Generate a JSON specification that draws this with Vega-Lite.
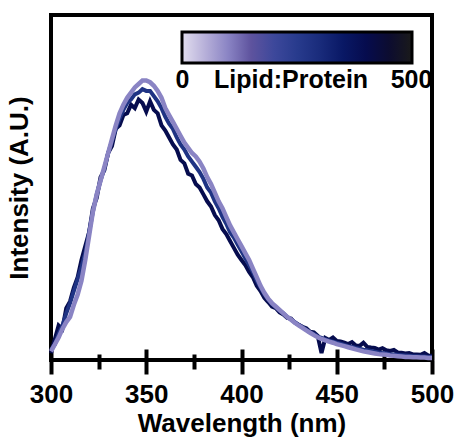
{
  "$schema": "https://vega.github.io/schema/vega-lite/v6.json",
  "width": 381,
  "height": 345,
  "autosize": {"type": "none"},
  "padding": {"left": 51, "top": 15, "right": 27, "bottom": 78},
  "background": "white",
  "config": {
    "view": {"stroke": "black", "strokeWidth": 4},
    "font": "Liberation Sans"
  },
  "datasets": {
    "D": [
      {"w":300,"r":400,"v":0.02},{"w":302,"r":400,"v":0.06},{"w":304,"r":400,"v":0.1},{"w":306,"r":400,"v":0.09},{"w":308,"r":400,"v":0.15},{"w":310,"r":400,"v":0.17},{"w":312,"r":400,"v":0.21},{"w":314,"r":400,"v":0.24},{"w":316,"r":400,"v":0.29},{"w":318,"r":400,"v":0.33},{"w":320,"r":400,"v":0.37},{"w":322,"r":400,"v":0.44},{"w":324,"r":400,"v":0.47},{"w":326,"r":400,"v":0.53},{"w":328,"r":400,"v":0.55},{"w":330,"r":400,"v":0.6},{"w":332,"r":400,"v":0.62},{"w":334,"r":400,"v":0.67},{"w":336,"r":400,"v":0.68},{"w":338,"r":400,"v":0.71},{"w":340,"r":400,"v":0.715},{"w":342,"r":400,"v":0.74},{"w":344,"r":400,"v":0.73},{"w":346,"r":400,"v":0.755},{"w":348,"r":400,"v":0.745},{"w":350,"r":400,"v":0.72},{"w":352,"r":400,"v":0.75},{"w":354,"r":400,"v":0.725},{"w":356,"r":400,"v":0.715},{"w":358,"r":400,"v":0.68},{"w":360,"r":400,"v":0.665},{"w":362,"r":400,"v":0.645},{"w":364,"r":400,"v":0.625},{"w":366,"r":400,"v":0.61},{"w":368,"r":400,"v":0.58},{"w":370,"r":400,"v":0.57},{"w":372,"r":400,"v":0.54},{"w":374,"r":400,"v":0.535},{"w":376,"r":400,"v":0.51},{"w":378,"r":400,"v":0.5},{"w":380,"r":400,"v":0.48},{"w":382,"r":400,"v":0.46},{"w":384,"r":400,"v":0.445},{"w":386,"r":400,"v":0.42},{"w":388,"r":400,"v":0.405},{"w":390,"r":400,"v":0.38},{"w":392,"r":400,"v":0.365},{"w":394,"r":400,"v":0.345},{"w":396,"r":400,"v":0.325},{"w":398,"r":400,"v":0.305},{"w":400,"r":400,"v":0.29},{"w":402,"r":400,"v":0.275},{"w":404,"r":400,"v":0.255},{"w":406,"r":400,"v":0.24},{"w":408,"r":400,"v":0.215},{"w":410,"r":400,"v":0.2},{"w":412,"r":400,"v":0.18},{"w":414,"r":400,"v":0.168},{"w":416,"r":400,"v":0.155},{"w":418,"r":400,"v":0.15},{"w":420,"r":400,"v":0.138},{"w":422,"r":400,"v":0.132},{"w":424,"r":400,"v":0.122},{"w":426,"r":400,"v":0.12},{"w":428,"r":400,"v":0.108},{"w":430,"r":400,"v":0.102},{"w":432,"r":400,"v":0.096},{"w":434,"r":400,"v":0.092},{"w":436,"r":400,"v":0.082},{"w":438,"r":400,"v":0.08},{"w":440,"r":400,"v":0.07},{"w":442,"r":400,"v":0.02},{"w":444,"r":400,"v":0.064},{"w":446,"r":400,"v":0.058},{"w":448,"r":400,"v":0.065},{"w":450,"r":400,"v":0.055},{"w":452,"r":400,"v":0.054},{"w":454,"r":400,"v":0.05},{"w":456,"r":400,"v":0.046},{"w":458,"r":400,"v":0.052},{"w":460,"r":400,"v":0.042},{"w":462,"r":400,"v":0.041},{"w":464,"r":400,"v":0.05},{"w":466,"r":400,"v":0.038},{"w":468,"r":400,"v":0.036},{"w":470,"r":400,"v":0.035},{"w":472,"r":400,"v":0.03},{"w":474,"r":400,"v":0.034},{"w":476,"r":400,"v":0.028},{"w":478,"r":400,"v":0.026},{"w":480,"r":400,"v":0.029},{"w":482,"r":400,"v":0.022},{"w":484,"r":400,"v":0.021},{"w":486,"r":400,"v":0.019},{"w":488,"r":400,"v":0.02},{"w":490,"r":400,"v":0.016},{"w":492,"r":400,"v":0.016},{"w":494,"r":400,"v":0.015},{"w":496,"r":400,"v":0.02},{"w":498,"r":400,"v":0.013},{"w":500,"r":400,"v":0.012}
    ],
    "M": [
      {"w":300,"r":280,"v":0.03},{"w":302,"r":280,"v":0.045},{"w":304,"r":280,"v":0.075},{"w":306,"r":280,"v":0.1},{"w":308,"r":280,"v":0.135},{"w":310,"r":280,"v":0.165},{"w":312,"r":280,"v":0.2},{"w":314,"r":280,"v":0.235},{"w":316,"r":280,"v":0.27},{"w":318,"r":280,"v":0.31},{"w":320,"r":280,"v":0.37},{"w":322,"r":280,"v":0.43},{"w":324,"r":280,"v":0.48},{"w":326,"r":280,"v":0.52},{"w":328,"r":280,"v":0.555},{"w":330,"r":280,"v":0.6},{"w":332,"r":280,"v":0.635},{"w":334,"r":280,"v":0.67},{"w":336,"r":280,"v":0.7},{"w":338,"r":280,"v":0.725},{"w":340,"r":280,"v":0.745},{"w":342,"r":280,"v":0.755},{"w":344,"r":280,"v":0.77},{"w":346,"r":280,"v":0.775},{"w":348,"r":280,"v":0.785},{"w":350,"r":280,"v":0.78},{"w":352,"r":280,"v":0.78},{"w":354,"r":280,"v":0.765},{"w":356,"r":280,"v":0.75},{"w":358,"r":280,"v":0.73},{"w":360,"r":280,"v":0.705},{"w":362,"r":280,"v":0.685},{"w":364,"r":280,"v":0.67},{"w":366,"r":280,"v":0.645},{"w":368,"r":280,"v":0.625},{"w":370,"r":280,"v":0.61},{"w":372,"r":280,"v":0.59},{"w":374,"r":280,"v":0.575},{"w":376,"r":280,"v":0.56},{"w":378,"r":280,"v":0.545},{"w":380,"r":280,"v":0.525},{"w":382,"r":280,"v":0.5},{"w":384,"r":280,"v":0.485},{"w":386,"r":280,"v":0.46},{"w":388,"r":280,"v":0.44},{"w":390,"r":280,"v":0.415},{"w":392,"r":280,"v":0.395},{"w":394,"r":280,"v":0.37},{"w":396,"r":280,"v":0.355},{"w":398,"r":280,"v":0.335},{"w":400,"r":280,"v":0.315},{"w":402,"r":280,"v":0.295},{"w":404,"r":280,"v":0.275},{"w":406,"r":280,"v":0.255},{"w":408,"r":280,"v":0.23},{"w":410,"r":280,"v":0.21},{"w":412,"r":280,"v":0.19},{"w":414,"r":280,"v":0.175},{"w":416,"r":280,"v":0.162},{"w":418,"r":280,"v":0.153},{"w":420,"r":280,"v":0.143},{"w":422,"r":280,"v":0.135},{"w":424,"r":280,"v":0.125},{"w":426,"r":280,"v":0.118},{"w":428,"r":280,"v":0.11},{"w":430,"r":280,"v":0.102},{"w":432,"r":280,"v":0.095},{"w":434,"r":280,"v":0.088},{"w":436,"r":280,"v":0.08},{"w":438,"r":280,"v":0.075},{"w":440,"r":280,"v":0.068},{"w":442,"r":280,"v":0.064},{"w":444,"r":280,"v":0.06},{"w":446,"r":280,"v":0.056},{"w":448,"r":280,"v":0.053},{"w":450,"r":280,"v":0.05},{"w":452,"r":280,"v":0.047},{"w":454,"r":280,"v":0.044},{"w":456,"r":280,"v":0.04},{"w":458,"r":280,"v":0.038},{"w":460,"r":280,"v":0.035},{"w":462,"r":280,"v":0.033},{"w":464,"r":280,"v":0.03},{"w":466,"r":280,"v":0.028},{"w":468,"r":280,"v":0.026},{"w":470,"r":280,"v":0.024},{"w":472,"r":280,"v":0.022},{"w":474,"r":280,"v":0.02},{"w":476,"r":280,"v":0.019},{"w":478,"r":280,"v":0.017},{"w":480,"r":280,"v":0.016},{"w":482,"r":280,"v":0.015},{"w":484,"r":280,"v":0.014},{"w":486,"r":280,"v":0.013},{"w":488,"r":280,"v":0.012},{"w":490,"r":280,"v":0.011},{"w":492,"r":280,"v":0.011},{"w":494,"r":280,"v":0.01},{"w":496,"r":280,"v":0.01},{"w":498,"r":280,"v":0.009},{"w":500,"r":280,"v":0.009}
    ],
    "L": [
      {"w":300,"r":100,"v":0.025},{"w":302,"r":100,"v":0.045},{"w":304,"r":100,"v":0.065},{"w":306,"r":100,"v":0.09},{"w":308,"r":100,"v":0.11},{"w":310,"r":100,"v":0.125},{"w":312,"r":100,"v":0.16},{"w":314,"r":100,"v":0.19},{"w":316,"r":100,"v":0.23},{"w":318,"r":100,"v":0.29},{"w":320,"r":100,"v":0.36},{"w":322,"r":100,"v":0.43},{"w":324,"r":100,"v":0.48},{"w":326,"r":100,"v":0.52},{"w":328,"r":100,"v":0.56},{"w":330,"r":100,"v":0.6},{"w":332,"r":100,"v":0.64},{"w":334,"r":100,"v":0.68},{"w":336,"r":100,"v":0.715},{"w":338,"r":100,"v":0.74},{"w":340,"r":100,"v":0.76},{"w":342,"r":100,"v":0.775},{"w":344,"r":100,"v":0.79},{"w":346,"r":100,"v":0.8},{"w":348,"r":100,"v":0.81},{"w":350,"r":100,"v":0.81},{"w":352,"r":100,"v":0.805},{"w":354,"r":100,"v":0.795},{"w":356,"r":100,"v":0.78},{"w":358,"r":100,"v":0.76},{"w":360,"r":100,"v":0.73},{"w":362,"r":100,"v":0.71},{"w":364,"r":100,"v":0.69},{"w":366,"r":100,"v":0.67},{"w":368,"r":100,"v":0.65},{"w":370,"r":100,"v":0.63},{"w":372,"r":100,"v":0.615},{"w":374,"r":100,"v":0.6},{"w":376,"r":100,"v":0.59},{"w":378,"r":100,"v":0.575},{"w":380,"r":100,"v":0.555},{"w":382,"r":100,"v":0.53},{"w":384,"r":100,"v":0.51},{"w":386,"r":100,"v":0.485},{"w":388,"r":100,"v":0.46},{"w":390,"r":100,"v":0.44},{"w":392,"r":100,"v":0.415},{"w":394,"r":100,"v":0.39},{"w":396,"r":100,"v":0.37},{"w":398,"r":100,"v":0.35},{"w":400,"r":100,"v":0.33},{"w":402,"r":100,"v":0.31},{"w":404,"r":100,"v":0.29},{"w":406,"r":100,"v":0.265},{"w":408,"r":100,"v":0.24},{"w":410,"r":100,"v":0.215},{"w":412,"r":100,"v":0.195},{"w":414,"r":100,"v":0.178},{"w":416,"r":100,"v":0.165},{"w":418,"r":100,"v":0.155},{"w":420,"r":100,"v":0.145},{"w":422,"r":100,"v":0.135},{"w":424,"r":100,"v":0.125},{"w":426,"r":100,"v":0.117},{"w":428,"r":100,"v":0.108},{"w":430,"r":100,"v":0.1},{"w":432,"r":100,"v":0.093},{"w":434,"r":100,"v":0.086},{"w":436,"r":100,"v":0.079},{"w":438,"r":100,"v":0.072},{"w":440,"r":100,"v":0.066},{"w":442,"r":100,"v":0.061},{"w":444,"r":100,"v":0.057},{"w":446,"r":100,"v":0.053},{"w":448,"r":100,"v":0.05},{"w":450,"r":100,"v":0.046},{"w":452,"r":100,"v":0.043},{"w":454,"r":100,"v":0.04},{"w":456,"r":100,"v":0.037},{"w":458,"r":100,"v":0.034},{"w":460,"r":100,"v":0.031},{"w":462,"r":100,"v":0.028},{"w":464,"r":100,"v":0.025},{"w":466,"r":100,"v":0.023},{"w":468,"r":100,"v":0.021},{"w":470,"r":100,"v":0.019},{"w":472,"r":100,"v":0.017},{"w":474,"r":100,"v":0.016},{"w":476,"r":100,"v":0.015},{"w":478,"r":100,"v":0.013},{"w":480,"r":100,"v":0.012},{"w":482,"r":100,"v":0.011},{"w":484,"r":100,"v":0.01},{"w":486,"r":100,"v":0.009},{"w":488,"r":100,"v":0.009},{"w":490,"r":100,"v":0.008},{"w":492,"r":100,"v":0.008},{"w":494,"r":100,"v":0.007},{"w":496,"r":100,"v":0.007},{"w":498,"r":100,"v":0.006},{"w":500,"r":100,"v":0.006}
    ],
    "major": [{"t":300},{"t":350},{"t":400},{"t":450},{"t":500}],
    "minor": [{"t":325},{"t":375},{"t":425},{"t":475}]
  },
  "layer": [
    {
      "data": {"name": "D"},
      "mark": {"type": "line", "strokeWidth": 4},
      "encoding": {
        "x": {"field": "w", "type": "quantitative",
          "scale": {"domain": [300, 500], "nice": false, "zero": false},
          "axis": {"orient": "bottom", "values": [300, 350, 400, 450, 500], "domain": false, "grid": false,
            "tickSize": 14, "tickWidth": 4, "tickColor": "black", "labelFlush": false,
            "labelFont": "Liberation Sans", "labelFontWeight": "bold", "labelFontSize": 26, "labelColor": "black", "labelPadding": 7,
            "title": "Wavelength (nm)", "titleFont": "Liberation Sans", "titleFontWeight": "bold", "titleFontSize": 26, "titleColor": "black", "titlePadding": 3}},
        "y": {"field": "v", "type": "quantitative",
          "scale": {"domain": [0, 1], "nice": false},
          "axis": {"ticks": false, "labels": false, "domain": false, "grid": false,
            "title": "Intensity (A.U.)", "titleFont": "Liberation Sans", "titleFontWeight": "bold", "titleFontSize": 26, "titleColor": "black", "titlePadding": 19}},
        "color": {"field": "r", "type": "quantitative",
          "scale": {"domain": [0, 100, 150, 210, 280, 340, 400, 460, 500],
            "range": ["#e2deef", "#8a84c4", "#5e539e", "#34469a", "#1f3384", "#0a1a6a", "#060c4e", "#0c0c2a", "#1a1a1a"], "zero": false, "nice": false},
          "legend": {"orient": "none", "legendX": 131, "legendY": 17, "direction": "horizontal", "title": null, "padding": 0,
            "gradientLength": 230, "gradientThickness": 31, "gradientStrokeColor": "black", "gradientStrokeWidth": 3,
            "values": [1, 237, 499], "labelExpr": "datum.value < 2 ? '0' : datum.value > 498 ? '500' : 'Lipid:Protein'",
            "labelOverlap": false, "labelOffset": 5, "labelLimit": 300,
            "labelFont": "Liberation Sans", "labelFontWeight": "bold", "labelFontSize": 25, "labelColor": "black"}}
      }
    },
    {
      "data": {"name": "M"},
      "mark": {"type": "line", "strokeWidth": 4},
      "encoding": {
        "x": {"field": "w", "type": "quantitative", "axis": null},
        "y": {"field": "v", "type": "quantitative"},
        "color": {"field": "r", "type": "quantitative"}
      }
    },
    {
      "data": {"name": "L"},
      "mark": {"type": "line", "strokeWidth": 4.5},
      "encoding": {
        "x": {"field": "w", "type": "quantitative", "axis": null},
        "y": {"field": "v", "type": "quantitative"},
        "color": {"field": "r", "type": "quantitative"}
      }
    },
    {
      "data": {"name": "minor"},
      "mark": {"type": "point", "opacity": 0},
      "encoding": {
        "x": {"field": "t", "type": "quantitative",
          "axis": {"orient": "bottom", "values": [325, 375, 425, 475], "domain": false, "grid": false, "labels": false, "title": null,
            "tickSize": 9, "tickWidth": 4, "tickColor": "black"}}
      }
    },
    {
      "data": {"name": "major"},
      "mark": {"type": "point", "opacity": 0},
      "encoding": {
        "x": {"field": "t", "type": "quantitative",
          "axis": {"orient": "bottom", "values": [300, 350, 400, 450, 500], "domain": false, "grid": false, "labels": false, "title": null,
            "tickSize": -11, "tickWidth": 4, "tickColor": "black"}}
      }
    },
    {
      "data": {"name": "minor"},
      "mark": {"type": "point", "opacity": 0},
      "encoding": {
        "x": {"field": "t", "type": "quantitative",
          "axis": {"orient": "bottom", "values": [325, 375, 425, 475], "domain": false, "grid": false, "labels": false, "title": null,
            "tickSize": -6, "tickWidth": 4, "tickColor": "black"}}
      }
    }
  ],
  "resolve": {"axis": {"x": "independent"}}
}
